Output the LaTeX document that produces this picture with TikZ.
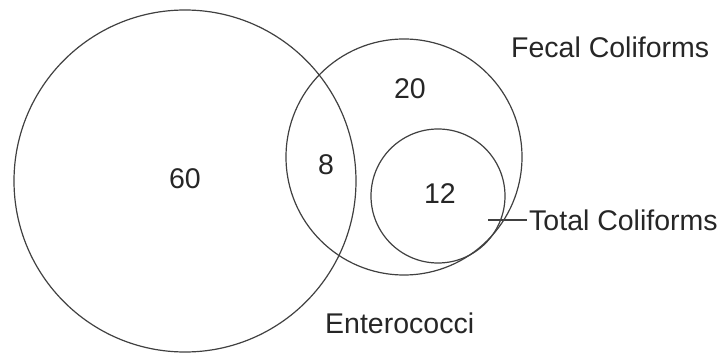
\documentclass[tikz,border=0pt]{standalone}
\usepackage{fontspec}
\setmainfont{Liberation Sans}
\usepackage{tikz}
\usetikzlibrary{positioning}

\tikzset{
    setcirc/.style={draw=black!75, line width=1.2pt, circle, inner sep=0pt, outer sep=0pt},
    count/.style={text=black!85, font=\fontsize{28.5}{34}\selectfont},
    setname/.style={text=black!85, font=\fontsize{28.5}{34}\selectfont, anchor=west, inner sep=2pt},
}

\begin{document}
\begin{tikzpicture}[x=1pt, y=-1pt]
    \useasboundingbox (0,0) rectangle (726,355);

    % the three sets
    \node [setcirc, minimum size=342pt] (entero) at (185,181) {};
    \node [setcirc, minimum size=236pt] (fecal) at (404,157) {};
    \node [setcirc, minimum size=134pt] (total) at (438,196) {};

    % counts
    \node [count] (n60) at (185,179) {60};
    \node [count] (n8) at (326,165) {8};
    \node [count] (n20) at (410,89) {20};
    \node [count] (n12) at (440,194) {12};

    % names
    \node [setname] (fecallabel) at (509,47) {Fecal Coliforms};
    \node [setname] (totallabel) at (527,220) {Total Coliforms};
    \node [setname] (enterolabel) at (323,323) {Enterococci};

    \coordinate [left=39pt of totallabel.west] (tick);
    \draw [black!75, line width=1.2pt] (tick) -- (totallabel.west);
\end{tikzpicture}
\end{document}
